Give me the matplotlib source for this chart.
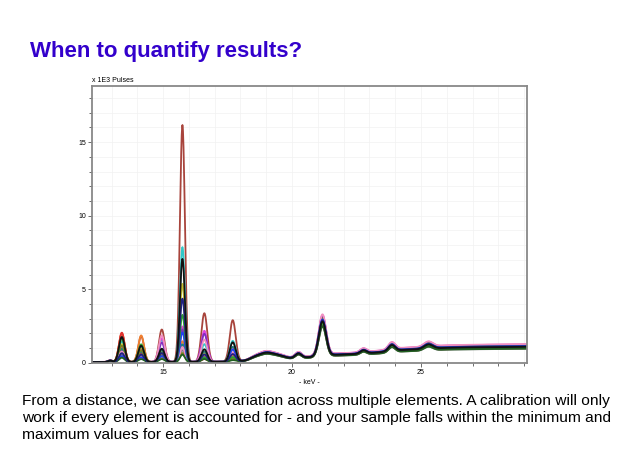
import numpy as np
import matplotlib.pyplot as plt

plt.rcParams['font.family'] = ['Liberation Sans', 'DejaVu Sans']

# energy axis (keV)
kev = np.linspace(12.2, 29.2, 1700)

# low-energy peaks: position (keV) and height (x 1E3 pulses) for each spectrum
peak_pos = [13.4, 14.15, 14.95, 15.75, 16.6, 17.7]
peak_sig = [0.11, 0.11, 0.11, 0.095, 0.115, 0.115]

spec_colors = ['#a8443c', '#30c8c8', '#c8c030', '#e040e0', '#f08030', '#8030c0',
               '#e03030', '#208080', '#808080', '#808020', '#f090c0', '#2040f0',
               '#30a030', '#206020', '#202080', '#111111']
spec_heights = [
    [1.9, 1.75, 2.2, 16.1, 3.3, 2.8],
    [1.4, 1.0, 1.5, 7.8, 1.2, 1.4],
    [1.2, 0.9, 0.7, 5.3, 0.6, 0.6],
    [1.0, 0.8, 1.6, 2.4, 2.1, 0.9],
    [1.95, 1.8, 0.5, 1.4, 0.4, 0.4],
    [0.8, 0.5, 1.3, 2.2, 1.9, 0.5],
    [2.0, 0.6, 0.3, 1.1, 0.2, 0.2],
    [0.9, 0.7, 0.8, 1.2, 0.7, 1.0],
    [0.5, 0.4, 0.3, 0.8, 0.3, 0.3],
    [1.1, 0.8, 0.4, 0.6, 0.2, 0.2],
    [0.7, 0.3, 1.8, 1.0, 1.5, 0.6],
    [0.4, 0.3, 0.4, 2.0, 0.3, 0.8],
    [1.6, 1.2, 0.6, 3.2, 0.3, 0.3],
    [0.3, 0.2, 0.2, 0.5, 0.2, 0.1],
    [0.6, 0.5, 0.6, 4.3, 0.5, 0.5],
    [1.7, 1.1, 0.9, 7.0, 0.85, 1.3],
]
# scale of the common high-energy part for each spectrum
spec_bg = [1.04, 1.0, 1.1, 1.12, 1.06, 1.08, 0.88, 0.95, 0.85, 1.05,
           1.14, 1.02, 0.92, 0.86, 1.0, 0.97]

# common high-energy peaks
hi_pos = [12.95, 20.25, 21.18, 22.77, 23.87, 25.29]
hi_sig = [0.08, 0.12, 0.14, 0.12, 0.13, 0.17]
hi_amp = [0.1, 0.3, 2.4, 0.22, 0.42, 0.3]

# background anchors (keV, x 1E3 pulses)
bg_kev = [12.2, 17.5, 18.2, 18.6, 19.0, 19.4, 19.9, 20.6, 21.5, 22.3, 23.3, 24.3,
          25.0, 26.0, 27.0, 29.2]
bg_val = [0.05, 0.07, 0.15, 0.5, 0.75, 0.6, 0.33, 0.38, 0.55, 0.6, 0.72, 0.9,
          0.95, 1.05, 1.08, 1.12]


def gauss(x, mu, s):
    return np.exp(-0.5 * ((x - mu) / s) ** 2)


bg = np.interp(kev, bg_kev, bg_val)
bg = np.convolve(bg, np.ones(31) / 31, mode='same')
bg[:15] = bg_val[0]
bg[-15:] = bg_val[-1]
common = bg.copy()
for p, s, a in zip(hi_pos, hi_sig, hi_amp):
    common += a * gauss(kev, p, s)

fig = plt.figure(figsize=(6.4, 4.49), dpi=100)
fig.text(0.047, 0.873, 'When to quantify results?', color='#3300cc',
         fontsize=16, fontweight='bold')

ax = fig.add_axes([0.144, 0.192, 0.679, 0.616])
for col, hts, sc in zip(spec_colors, spec_heights, spec_bg):
    y = common * sc
    for p, s, h in zip(peak_pos, peak_sig, hts):
        y = y + h * gauss(kev, p, s)
    ax.plot(kev, y, color=col, lw=1.3)

ax.set_xlim(12.25, 29.1)
ax.set_ylim(0, 18.8)
ax.set_xticks([15, 20, 25])
ax.set_xticks(np.arange(13, 30, 1), minor=True)
ax.set_yticks([0, 5, 10, 15])
ax.set_yticks(np.arange(0, 19, 1), minor=True)
ax.tick_params(labelsize=5, length=3, width=0.6, color='#555555', pad=1.5)
ax.tick_params(which='minor', length=2, width=0.6, color='#555555')
ax.grid(True, which='both', color='#f2f2f2', lw=0.5)
for sp in ax.spines.values():
    sp.set_color('#888888')
    sp.set_linewidth(1.3)
ax.text(0.0, 1.008, 'x 1E3 Pulses', transform=ax.transAxes, fontsize=5,
        ha='left', va='bottom')
ax.set_xlabel('- keV -', fontsize=5, labelpad=2)

fig.text(0.034, 0.069, 'From a distance, we can see variation across multiple elements. '
         'A calibration will only\nwork if every element is accounted for - and your '
         'sample falls within the minimum and\nmaximum values for each',
         fontsize=11.15, linespacing=1.26, va='center')

fig.savefig('out.png', dpi=100)
